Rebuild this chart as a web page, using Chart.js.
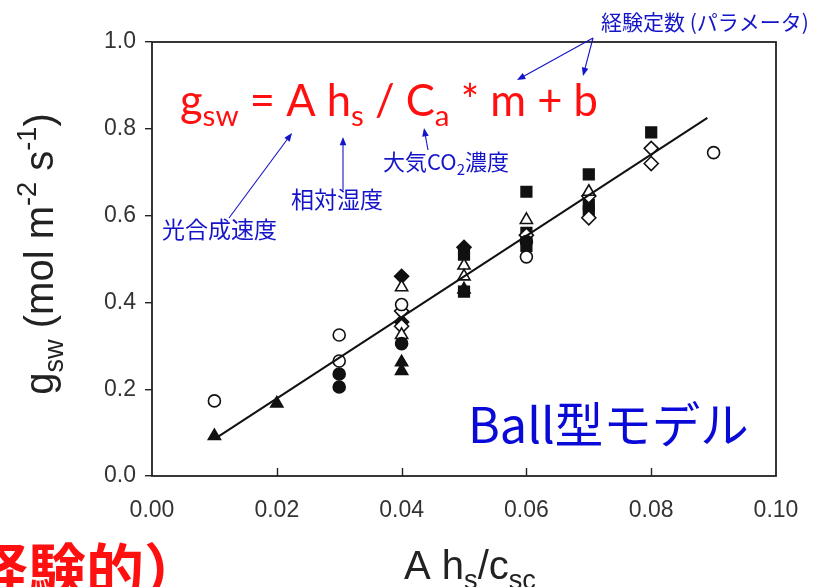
<!DOCTYPE html>
<html>
<head>
<meta charset="utf-8">
<script src="https://cdn.jsdelivr.net/npm/chart.js@4.4.0/dist/chart.umd.min.js"></script>
<style>
  html, body { margin: 0; padding: 0; background: #fff; overflow: hidden; }
  canvas { display: block; }
</style>
</head>
<body>
<canvas id="c" width="823" height="587"></canvas>
<script>
// Axis ticks
const xTicks = [0, 0.02, 0.04, 0.06, 0.08, 0.10];
const yTicks = [0, 0.2, 0.4, 0.6, 0.8, 1.0];

// Observations: [A*hs/cs, gsw] grouped by marker type
const openCircle     = [[0.01, 0.173], [0.03, 0.325], [0.03, 0.265], [0.04, 0.395], [0.06, 0.505], [0.09, 0.745]];
const filledCircle   = [[0.03, 0.235], [0.03, 0.205], [0.04, 0.305], [0.06, 0.54]];
const openTriangle   = [[0.04, 0.435], [0.04, 0.325], [0.05, 0.485], [0.05, 0.46], [0.06, 0.59], [0.07, 0.655]];
const filledTriangle = [[0.01, 0.092], [0.02, 0.167], [0.04, 0.262], [0.04, 0.242], [0.05, 0.43]];
const openDiamond    = [[0.04, 0.38], [0.04, 0.345], [0.06, 0.555], [0.07, 0.645], [0.07, 0.595], [0.08, 0.755], [0.08, 0.72]];
const filledDiamond  = [[0.04, 0.46], [0.04, 0.355], [0.05, 0.527]];
const filledSquare   = [[0.05, 0.51], [0.05, 0.425], [0.06, 0.655], [0.06, 0.56], [0.06, 0.53], [0.07, 0.695], [0.07, 0.625], [0.07, 0.61], [0.08, 0.792]];
const crossMark      = [[0.04, 0.365]];

// Fitted regression line (end points)
const fitLine = [[0.01, 0.085], [0.089, 0.825]];

const toXY = arr => arr.map(([x, y]) => ({ x, y }));

function markerSet(label, data, style, filled, radius) {
  return {
    type: 'scatter',
    label,
    data: toXY(data),
    pointStyle: style,
    pointRadius: radius,
    pointHoverRadius: radius,
    pointBorderWidth: style === 'crossRot' ? 2 : 1.6,
    pointBorderColor: '#111',
    pointBackgroundColor: filled ? '#111' : '#fff',
    order: 2
  };
}

// Draw mixed-size text runs: kind 0 = normal, 1 = subscript, 2 = superscript
function richText(ctx, x, y, parts, size, family, color, align, weight) {
  const small = size * 0.68;
  const w = weight || 'normal';
  const widths = parts.map(([t, k]) => {
    ctx.font = `${w} ${k ? small : size}px ${family}`;
    return ctx.measureText(t).width;
  });
  const total = widths.reduce((a, b) => a + b, 0);
  let cx = align === 'center' ? x - total / 2 : x;
  ctx.save();
  ctx.fillStyle = color;
  ctx.textAlign = 'left';
  ctx.textBaseline = 'alphabetic';
  parts.forEach(([t, k], i) => {
    ctx.font = `${w} ${k ? small : size}px ${family}`;
    const dy = k === 1 ? size * 0.24 : (k === 2 ? -size * 0.42 : 0);
    ctx.fillText(t, cx, y + dy);
    cx += widths[i];
  });
  ctx.restore();
}

function arrow(ctx, x1, y1, x2, y2, color) {
  const ang = Math.atan2(y2 - y1, x2 - x1);
  const len = 9, spread = 0.38;
  ctx.save();
  ctx.strokeStyle = color;
  ctx.fillStyle = color;
  ctx.lineWidth = 1.1;
  ctx.beginPath();
  ctx.moveTo(x1, y1);
  ctx.lineTo(x2 - Math.cos(ang) * len * 0.8, y2 - Math.sin(ang) * len * 0.8);
  ctx.stroke();
  ctx.beginPath();
  ctx.moveTo(x2, y2);
  ctx.lineTo(x2 - len * Math.cos(ang - spread), y2 - len * Math.sin(ang - spread));
  ctx.lineTo(x2 - len * Math.cos(ang + spread), y2 - len * Math.sin(ang + spread));
  ctx.closePath();
  ctx.fill();
  ctx.restore();
}

const SANS = '"Liberation Sans", Arial, sans-serif';
const JP = '"Noto Sans CJK JP", sans-serif';
const FORMULA = 'Lato, "Open Sans", sans-serif';
const BLUE = '#1414c8';
const RED = '#ff1010';

const framePlugin = {
  id: 'frameAndNotes',
  afterDraw(chart) {
    const { ctx, chartArea: a, scales } = chart;
    ctx.save();
    // plot frame
    ctx.strokeStyle = '#222';
    ctx.lineWidth = 1.8;
    ctx.strokeRect(a.left, a.top, a.right - a.left, a.bottom - a.top);
    // inward ticks on the x axis
    ctx.lineWidth = 1.4;
    xTicks.slice(1, -1).forEach(v => {
      const px = Math.round(scales.x.getPixelForValue(v)) + 0.5;
      ctx.beginPath();
      ctx.moveTo(px, a.bottom);
      ctx.lineTo(px, a.bottom - 8);
      ctx.stroke();
    });
    ctx.restore();

    // axis titles
    richText(ctx, 470, 579, [['A h', 0], ['s', 1], ['/c', 0], ['sc', 1]], 40, SANS, '#222', 'center');
    ctx.save();
    ctx.translate(53, 254);
    ctx.rotate(-Math.PI / 2);
    richText(ctx, 0, 0, [['g', 0], ['sw', 1], [' (mol m', 0], ['-2', 2], [' s', 0], ['-1', 2], [')', 0]], 40, SANS, '#222', 'center');
    ctx.restore();

    // model equation
    richText(ctx, 180, 116, [['g', 0], ['sw', 1], [' = A h', 0], ['s', 1], [' / C', 0], ['a', 1], [' * m + b', 0]], 43.5, FORMULA, RED, 'left');

    // parameter labels and arrows
    richText(ctx, 601, 30, [['経験定数 (パラメータ)', 0]], 21, JP, BLUE, 'left');
    arrow(ctx, 593, 38, 517, 80, BLUE);
    arrow(ctx, 593, 38, 583, 76, BLUE);
    richText(ctx, 383, 170, [['大気CO', 0], ['2', 1], ['濃度', 0]], 22, JP, BLUE, 'left');
    arrow(ctx, 428, 150, 424, 128, BLUE);
    richText(ctx, 291, 208, [['相対湿度', 0]], 23, JP, BLUE, 'left');
    arrow(ctx, 343, 190, 343, 137, BLUE);
    richText(ctx, 162, 238, [['光合成速度', 0]], 23, JP, BLUE, 'left');
    arrow(ctx, 229, 218, 292, 133, BLUE);

    // model name
    richText(ctx, 468, 443, [['Ball型モデル', 0]], 48.5, JP, '#0a0ad8', 'left');

    // side note
    richText(ctx, -30, 592, [['経験的）', 0]], 58, JP, RED, 'left', 'bold');
  }
};

new Chart(document.getElementById('c'), {
  data: {
    datasets: [
      {
        type: 'line',
        label: 'fit',
        data: toXY(fitLine),
        borderColor: '#111',
        borderWidth: 2,
        pointRadius: 0,
        fill: false,
        order: 1
      },
      markerSet('open circle', openCircle, 'circle', false, 6),
      markerSet('filled circle', filledCircle, 'circle', true, 6),
      markerSet('open triangle', openTriangle, 'triangle', false, 7),
      markerSet('filled triangle', filledTriangle, 'triangle', true, 7),
      markerSet('open diamond', openDiamond, 'rectRot', false, 7),
      markerSet('filled diamond', filledDiamond, 'rectRot', true, 7),
      markerSet('filled square', filledSquare, 'rect', true, 7.5),
      markerSet('cross', crossMark, 'crossRot', false, 6)
    ]
  },
  options: {
    responsive: false,
    animation: false,
    layout: { padding: { left: 0, top: 42, right: 47, bottom: 0 } },
    plugins: { legend: { display: false }, tooltip: { enabled: false } },
    scales: {
      x: {
        type: 'linear',
        min: 0,
        max: 0.1,
        afterBuildTicks: s => { s.ticks = xTicks.map(v => ({ value: v })); },
        afterFit: s => { s.height = 111; },
        ticks: {
          callback: v => v.toFixed(2),
          font: { family: SANS, size: 23 },
          color: '#333',
          padding: 21,
          maxRotation: 0,
          autoSkip: false
        },
        grid: { display: false, drawTicks: false },
        border: { display: false }
      },
      y: {
        type: 'linear',
        min: 0,
        max: 1,
        afterBuildTicks: s => { s.ticks = yTicks.map(v => ({ value: v })); },
        afterFit: s => { s.width = 152; },
        ticks: {
          callback: v => v.toFixed(1),
          font: { family: SANS, size: 23 },
          color: '#333',
          padding: 9,
          autoSkip: false
        },
        grid: { drawOnChartArea: false, drawTicks: true, tickLength: 7, color: '#222', lineWidth: 1.4 },
        border: { display: false }
      }
    }
  },
  plugins: [framePlugin]
});
</script>
</body>
</html>
